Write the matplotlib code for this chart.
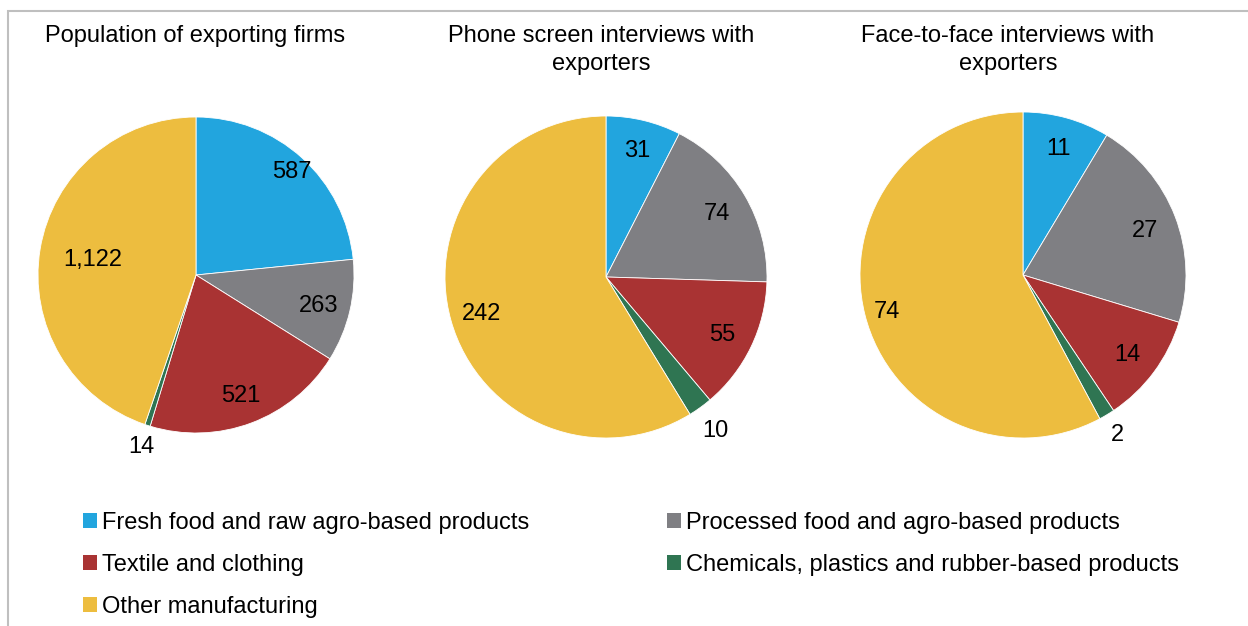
import numpy as np
import matplotlib
matplotlib.use("Agg")
import matplotlib.pyplot as plt
from matplotlib.patches import Patch, Rectangle

plt.rcParams['font.family'] = ['Liberation Sans', 'DejaVu Sans']

# ---------------- data ----------------
categories = ["Fresh food and raw agro-based products",
              "Processed food and agro-based products",
              "Textile and clothing",
              "Chemicals, plastics and rubber-based products",
              "Other manufacturing"]
colors = ["#22A5DE", "#7F7F83", "#A93333", "#2F7552", "#EDBD3F"]

titles = ["Population of exporting firms",
          "Phone screen interviews with\nexporters",
          "Face-to-face interviews with\nexporters"]
population = [587, 263, 521, 14, 1122]
phone = [31, 74, 55, 10, 242]
face = [11, 27, 14, 2, 74]
series = [population, phone, face]

# label radius (fraction of pie radius) per wedge
label_dist = [[0.9, 0.8, 0.8, 1.13, 0.66],
              [0.82, 0.8, 0.8, 1.16, 0.8],
              [0.82, 0.8, 0.8, 1.13, 0.86]]

W, H = 1248, 626
fig = plt.figure(figsize=(W / 100, H / 100), dpi=100)

# frame around chart area
fig.add_artist(Rectangle((8 / W, -0.1), 1.2, 1.1 - 11 / H, transform=fig.transFigure,
                         fill=False, edgecolor="#BFBFBF", linewidth=1.5))

# pie centres/radii in pixels
pies = [(196, 275, 158), (606, 277, 161), (1023, 275, 163)]
title_x = [195, 601, 1008]

for i, (cx, cy, r) in enumerate(pies):
    ax = fig.add_axes([(cx - r) / W, 1 - (cy + r) / H, 2 * r / W, 2 * r / H])
    vals = series[i]
    wedges, _ = ax.pie(vals, colors=colors, startangle=90, counterclock=False,
                       radius=1, wedgeprops=dict(linewidth=0.6, edgecolor="white"))
    total = sum(vals)
    start = 90.0
    for j, v in enumerate(vals):
        span = 360.0 * v / total
        mid = np.deg2rad(start - span / 2)
        start -= span
        d = label_dist[i][j]
        ax.text(d * np.cos(mid), d * np.sin(mid) - 0.015, f"{v:,}", ha="center", va="center",
                fontsize=17, color="black")
    ax.set_xlim(-1, 1)
    ax.set_ylim(-1, 1)
    ax.axis("off")
    fig.text(title_x[i] / W, 1 - 25 / H, titles[i], ha="center", va="top",
             fontsize=17, linespacing=1.38)

# legend ordered row-wise across two columns
order = [0, 2, 4, 1, 3]
handles = [Patch(facecolor=colors[k], edgecolor="none") for k in order]
labels = [categories[k] for k in order]
fig.legend(handles, labels, loc="upper left", bbox_to_anchor=(71 / W, 1 - 500 / H),
           ncol=2, frameon=False, fontsize=17, handlelength=0.6, handleheight=0.6,
           handletextpad=0.2, columnspacing=5.85, labelspacing=0.85, borderpad=0)

fig.savefig("out.png", dpi=100)
